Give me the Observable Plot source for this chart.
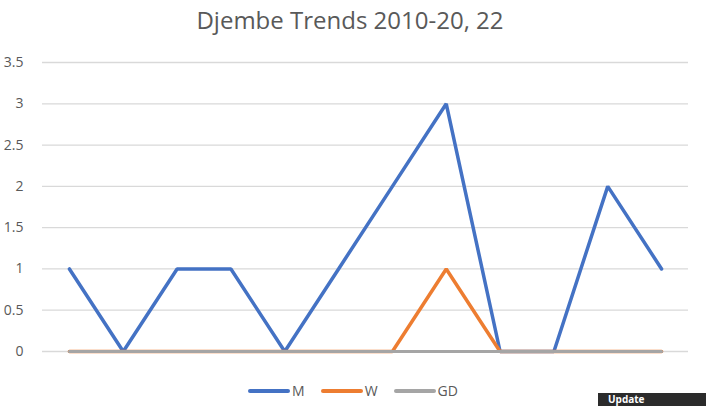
<!DOCTYPE html>
<html>
<head>
<meta charset="utf-8">
<script src="https://cdn.jsdelivr.net/npm/d3@7"></script>
<script src="https://cdn.jsdelivr.net/npm/@observablehq/plot@0.6"></script>
<style>
  html, body { margin: 0; padding: 0; background: #fff; }
  #wrap { position: relative; width: 706px; height: 406px; overflow: hidden; font-family: "Open Sans", "Noto Sans", sans-serif; }
  #title { position: absolute; left: 0; top: 3px; width: 700px; text-align: center; font-size: 24px; color: #595959; }
  #legend { position: absolute; top: 381px; left: 0; width: 706px; display: flex; justify-content: center; font-size: 14px; color: #595959; }
  .item { display: flex; align-items: center; margin: 0 8px; }
  .sw { width: 42px; height: 4px; border-radius: 2px; margin-right: 2px; }
  #tip { position: absolute; left: 598px; top: 393px; width: 108px; height: 13px; background: #2b2b2b; color: #fff; font-size: 10px; line-height: 13px; font-weight: bold; padding: 0 0 0 10px; box-sizing: border-box; overflow: hidden; }
  #chart { position: absolute; left: 0; top: 0; }
</style>
</head>
<body>
<div id="wrap">
  <div id="chart"></div>
  <div id="title">Djembe Trends 2010-20, 22</div>
  <div id="legend"></div>
  <div id="tip">Update</div>
</div>
<script>
const years = ["2010","2011","2012","2013","2014","2015","2016","2017","2018","2019","2020","2022"];
const seriesNames = ["M", "W", "GD"];
const seriesColors = ["#4472C4", "#ED7D31", "#A5A5A5"];
const mValues  = [1, 0, 1, 1, 0, 1, 2, 3, 0, 0, 2, 1];
const wValues  = [0, 0, 0, 0, 0, 0, 0, 1, 0, 0, 0, 0];
const gdValues = [0, 0, 0, 0, 0, 0, 0, 0, 0, 0, 0, 0];
const yTicks = [0, 0.5, 1, 1.5, 2, 2.5, 3, 3.5];

const allValues = [mValues, wValues, gdValues];
const rows = [];
seriesNames.forEach((s, i) => years.forEach((y, j) => rows.push({series: s, year: y, value: allValues[i][j]})));

const widths = {M: 3.5, W: 3.5, GD: 3.1};

const chart = Plot.plot({
  width: 706,
  height: 406,
  marginLeft: 42,
  marginRight: 18,
  marginTop: 62,
  marginBottom: 55,
  x: {type: "point", domain: years, padding: 0.5, round: false, axis: null},
  y: {domain: [0, 3.5], ticks: yTicks, label: null},
  style: {fontFamily: "'Open Sans', 'Noto Sans', sans-serif", fontSize: "14px", color: "#595959", background: "transparent"},
  marks: [
    Plot.gridY(yTicks, {stroke: "#d9d9d9", strokeOpacity: 1, strokeWidth: 1.3}),
    Plot.axisY(yTicks, {tickSize: 0, textAnchor: "end", dx: -10, fill: "#595959", fontSize: 14, tickFormat: d => String(d)}),
    ...seriesNames.map((s, i) => Plot.line(rows.filter(r => r.series === s), {
      x: "year", y: "value", stroke: seriesColors[i], strokeWidth: widths[s],
      strokeLinejoin: "miter", strokeLinecap: "round"
    }))
  ]
});
document.getElementById("chart").appendChild(chart);

const legend = document.getElementById("legend");
seriesNames.forEach((s, i) => {
  const it = document.createElement("div");
  it.className = "item";
  const sw = document.createElement("div");
  sw.className = "sw";
  sw.style.background = seriesColors[i];
  const t = document.createElement("span");
  t.textContent = s;
  it.appendChild(sw); it.appendChild(t);
  legend.appendChild(it);
});
</script>
</body>
</html>
